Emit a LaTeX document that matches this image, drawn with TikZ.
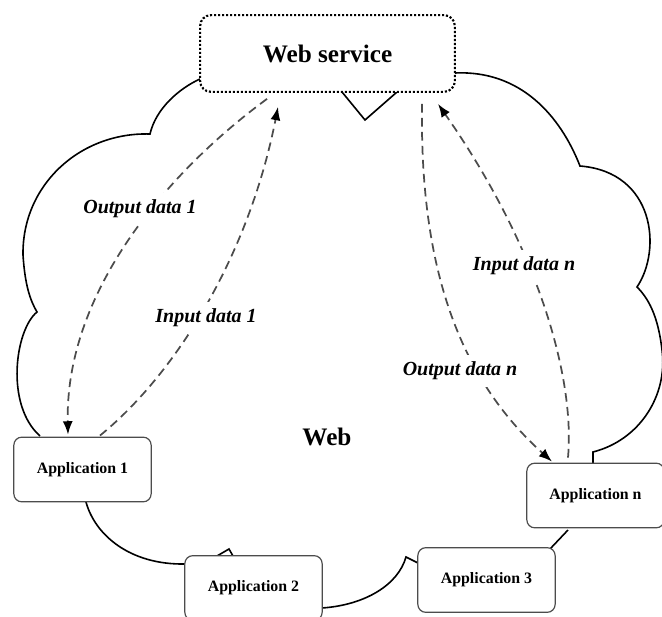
\documentclass[tikz,border=0pt]{standalone}
\usepackage{fontspec}
\setmainfont{Liberation Serif}
\usetikzlibrary{arrows.meta,calc}

\tikzset{every picture/.style={line width=0.75pt}}
\tikzset{
  appbox/.style={draw=black!70, line width=0.9pt, rounded corners=6pt, fill=white, minimum width=103pt, minimum height=48.5pt, font=\fontsize{11.9}{14}\selectfont\bfseries},
  flowlbl/.style={fill=white, inner xsep=1pt, inner ysep=5pt, font=\fontsize{15}{18}\selectfont\bfseries\itshape},
  dataflow/.style={draw=black!70, line width=1.3pt, dash pattern=on 6.5pt off 4pt, -{Latex[length=10pt,width=7.5pt,color=black]}},
}

\begin{document}
\begin{tikzpicture}[x=0.75pt,y=0.75pt,yscale=-1,xscale=1]
	\useasboundingbox (0,0) rectangle (662,617); %diagram is 662 x 617

	%Shape: Cloud [id:web]
	\draw [line width=1.2pt] (200,79) .. controls (180,88) and (156,108) .. (150,134) .. controls (80,132) and (22,185) .. (23,255) .. controls (25,285) and (30,300) .. (37,312) .. controls (15,330) and (5,405) .. (40,436) ;
	\draw [line width=1.2pt] (86,502) .. controls (95,535) and (130,565) .. (185,564) ;
	\draw [line width=1.2pt] (217,556) -- (229,549) -- (233,556) ;
	\draw [line width=1.2pt] (322,608) .. controls (365,605) and (398,585) .. (406,557) -- (418,563) ;
	\draw [line width=1.2pt] (550,549) -- (568,530) ;
	\draw [line width=1.2pt] (593,463) -- (593,452) .. controls (640,440) and (668,395) .. (662,350) .. controls (658,315) and (648,298) .. (637,287) .. controls (662,250) and (655,172) .. (580,166) .. controls (560,115) and (520,70) .. (455,73) ;
	\draw [line width=1.2pt] (342,92) -- (365,120) -- (397,92) ;

	%Rounded Rect [id:websvc]
	\node (websvc) at (327.5,53.5) [draw, line width=1.6pt, dash pattern=on 1.6pt off 1.4pt, rounded corners=8pt, fill=white, minimum width=191pt, minimum height=57.5pt, font=\fontsize{18.9}{22}\selectfont\bfseries] {Web service};
	% Text Node
	\node (web) at (327,437) [font=\fontsize{18.9}{22}\selectfont\bfseries] {Web};

	%Rounded Rect [id:apps]
	\node (app1) at (82.5,469.5) [appbox] {Application 1};
	\node (app2) at (253.5,588) [appbox] {Application 2};
	\node (app3) at (486.5,580) [appbox] {Application 3};
	\node (appn) at (595.5,495.5) [appbox] {Application n};

	%Curve Lines [id:flows]
	\draw [dataflow] ($(websvc.south)+(-60.5,6)$) .. controls (170,170) and (65,290) .. ($(app1.north)+(-14.5,-2)$) ;
	\draw [dataflow] ($(app1.north)+(17.5,-1)$) .. controls (180,370) and (250,250) .. ($(websvc.south)+(-49.5,14)$) ;
	\draw [dataflow] ($(websvc.south)+(94.5,11)$) .. controls (420,250) and (450,370) .. ($(appn.north)+(-43.5,-1)$) ;
	\draw [dataflow] ($(appn.north)+(-27.5,-5)$) .. controls (575,380) and (540,250) .. ($(websvc.south)+(110.5,11)$) ;

	% Text Node
	\node (out1) at (140,209) [flowlbl] {Output data 1};
	% Text Node
	\node (in1) at (206,318) [flowlbl] {Input data 1};
	% Text Node
	\node (inn) at (524,266) [flowlbl] {Input data n};
	% Text Node
	\node (outn) at (460,371) [flowlbl] {Output data n};

\end{tikzpicture}
\end{document}
